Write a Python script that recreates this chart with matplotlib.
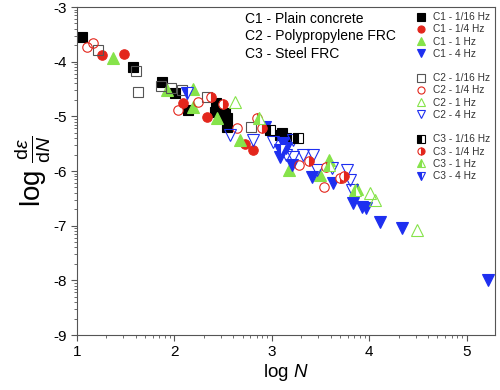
import matplotlib
matplotlib.use("Agg")
import matplotlib.pyplot as plt
from matplotlib.lines import Line2D
import numpy as np

plt.rcParams['font.family'] = ['Liberation Sans', 'DejaVu Sans']
plt.rcParams['mathtext.fontset'] = 'custom'
plt.rcParams['mathtext.rm'] = 'Liberation Sans'
plt.rcParams['mathtext.it'] = 'Liberation Sans:italic'

# log N, log(de/dN) per concrete type and frequency
c1_16_x = [1.05, 1.57, 1.87, 2.01, 2.14, 2.43, 2.42, 2.47, 2.52, 2.54, 2.54, 3.08, 3.15, 3.10]
c1_16_y = [-3.55, -4.10, -4.37, -4.58, -4.89, -4.76, -4.92, -5.00, -4.94, -5.03, -5.20, -5.34, -5.40, -5.31]
c1_4_x = [1.26, 1.48, 2.09, 2.33, 2.72, 2.81]
c1_4_y = [-3.88, -3.86, -4.76, -5.01, -5.51, -5.62]
c1_1_x = [1.37, 1.92, 2.19, 2.19, 2.44, 2.67, 3.18, 3.49, 3.59, 3.87]
c1_1_y = [-3.93, -4.52, -4.50, -4.83, -5.03, -5.44, -5.99, -6.08, -5.80, -6.33]
c1_4hz_x = [2.93, 3.11, 3.08, 3.15, 3.21, 3.41, 3.63, 3.83, 3.92, 3.97, 4.11, 4.34, 5.22]
c1_4hz_y = [-5.20, -5.49, -5.75, -5.58, -5.89, -6.11, -6.22, -6.59, -6.66, -6.68, -6.94, -7.05, -8.00]

c2_16_x = [1.22, 1.61, 1.63, 1.86, 1.96, 2.08, 2.33, 2.79]
c2_16_y = [-3.79, -4.17, -4.56, -4.45, -4.48, -4.52, -4.65, -5.20]
c2_4_x = [1.10, 1.16, 2.04, 2.24, 2.64, 3.28, 3.54, 3.72]
c2_4_y = [-3.73, -3.66, -4.89, -4.74, -5.22, -5.89, -6.30, -6.13]
c2_1_x = [2.62, 4.01, 4.06, 4.49]
c2_1_y = [-4.74, -6.41, -6.53, -7.08]
c2_4hz_x = [2.57, 2.81, 3.01, 3.22, 3.15, 3.22, 3.32, 3.42, 3.46, 3.62, 3.77, 3.80, 3.82]
c2_4hz_y = [-5.34, -5.44, -5.47, -5.44, -5.71, -5.75, -5.71, -5.71, -5.99, -5.95, -5.99, -6.17, -6.35]

c3_16_x = [2.98, 3.27]
c3_16_y = [-5.25, -5.40]
c3_4_x = [2.38, 2.50, 2.85, 2.90, 3.38, 3.56, 3.70, 3.74]
c3_4_y = [-4.65, -4.78, -5.03, -5.22, -5.82, -5.93, -6.13, -6.10]
c3_1_x = [2.87, 3.59, 3.85]
c3_1_y = [-5.03, -5.89, -6.35]
c3_4hz_x = [2.13, 3.08]
c3_4hz_y = [-4.58, -5.62]

black = '#000000'
red = '#e3261c'
green = '#86e34a'
blue = '#1e2ff0'
gray = '#555555'

series = [
    (c1_16_x, c1_16_y, 's', black, black, 'full', 'C1 - 1/16 Hz'),
    (c1_4_x, c1_4_y, 'o', red, red, 'full', 'C1 - 1/4 Hz'),
    (c1_1_x, c1_1_y, '^', green, green, 'full', 'C1 - 1 Hz'),
    (c1_4hz_x, c1_4hz_y, 'v', blue, blue, 'full', 'C1 - 4 Hz'),
    (c2_16_x, c2_16_y, 's', 'none', gray, 'none', 'C2 - 1/16 Hz'),
    (c2_4_x, c2_4_y, 'o', 'none', red, 'none', 'C2 - 1/4 Hz'),
    (c2_1_x, c2_1_y, '^', 'none', green, 'none', 'C2 - 1 Hz'),
    (c2_4hz_x, c2_4hz_y, 'v', 'none', blue, 'none', 'C2 - 4 Hz'),
    (c3_16_x, c3_16_y, 's', black, black, 'left', 'C3 - 1/16 Hz'),
    (c3_4_x, c3_4_y, 'o', red, red, 'right', 'C3 - 1/4 Hz'),
    (c3_1_x, c3_1_y, '^', green, green, 'left', 'C3 - 1 Hz'),
    (c3_4hz_x, c3_4hz_y, 'v', blue, blue, 'left', 'C3 - 4 Hz'),
]

fig = plt.figure(figsize=(5, 3.9), dpi=100)
ax = fig.add_axes([0.154, 0.141, 0.836, 0.841])

handles = []
for i, (x, y, m, fc, ec, fs, lab) in enumerate(series):
    ms = 8 if m in '^v' else 6.8
    if fs == 'none':
        h, = ax.plot(x, y, m, ls='none', ms=ms, mfc='none', mec=ec, mew=0.8, label=lab)
    else:
        h, = ax.plot(x, y, m, ls='none', ms=ms, mfc=fc, mec=ec, mew=0.8,
                     fillstyle=fs, markerfacecoloralt='white', label=lab)
    handles.append(h)
    if i in (3, 7):
        handles.append(Line2D([], [], ls='none', label=' '))

ax.legend(handles=handles, loc='upper right', frameon=False, fontsize=7.3,
          handletextpad=0.6, labelspacing=0.22, borderaxespad=0.1,
          markerscale=0.75, handlelength=1.2, labelcolor='#333333')

ax.text(0.402, 0.985, 'C1 - Plain concrete', transform=ax.transAxes, fontsize=10, va='top')
ax.text(0.402, 0.932, 'C2 - Polypropylene FRC', transform=ax.transAxes, fontsize=10, va='top')
ax.text(0.402, 0.879, 'C3 - Steel FRC', transform=ax.transAxes, fontsize=10, va='top')

ax.set_xlim(1, 5.29)
ax.set_ylim(-9, -3)
ax.set_xticks([1, 2, 3, 4, 5])
ax.set_yticks([-9, -8, -7, -6, -5, -4, -3])
ax.set_yticklabels(['-9', '-8', '-7', '-6', '-5', '-4', '-3'])
minor_x = [n + np.log10(k) for n in range(1, 6) for k in range(2, 10) if n + np.log10(k) < 5.29]
minor_y = [n + np.log10(k) for n in range(-9, -3) for k in range(2, 10)]
ax.set_xticks(minor_x, minor=True)
ax.set_yticks(minor_y, minor=True)
ax.tick_params(which='major', direction='out', length=4, width=0.8, labelsize=11, color='#555555')
ax.tick_params(which='minor', direction='out', length=2, width=0.6, color='#555555')
for s in ax.spines.values():
    s.set_color('#555555')
    s.set_linewidth(0.8)

ax.set_xlabel(r'$\log\,\mathit{N}$', fontsize=13.5, labelpad=2)
ax.set_ylabel(r'$\log\,\frac{\mathrm{d}\epsilon}{\mathrm{d}\mathit{N}}$', fontsize=20, labelpad=0)

fig.savefig('out.png', dpi=100)
